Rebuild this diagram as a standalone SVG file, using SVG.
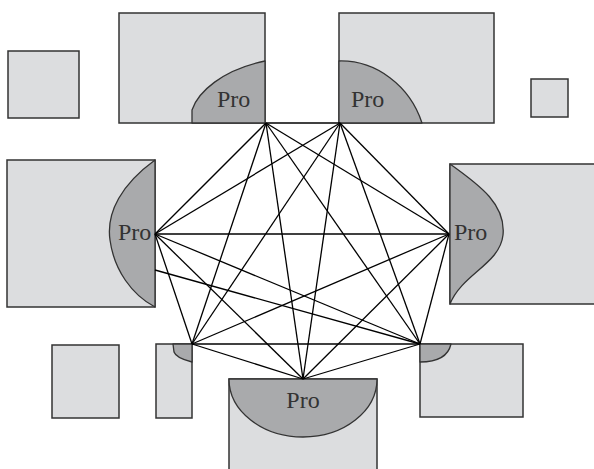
<svg xmlns="http://www.w3.org/2000/svg" width="594" height="469" viewBox="0 0 594 469">
  <style>
    .box { fill: #dcdddf; stroke: #333; stroke-width: 1.5; }
    .pro { fill: #a9aaac; stroke: #333; stroke-width: 1.3; stroke-linejoin: round; }
    .lbl { font-family: "Liberation Serif", "DejaVu Serif", serif; font-size: 24px; fill: #333; }
    .edge { stroke: #000; stroke-width: 1.3; fill: none; }
  </style>
  <rect width="594" height="469" fill="#fff"/>

  <!-- plain boxes -->
  <g id="box-small-tl"><rect class="box" x="8" y="51" width="71" height="67"/></g>
  <g id="box-small-r"><rect class="box" x="531" y="79" width="37" height="38"/></g>
  <g id="box-small-bl"><rect class="box" x="52" y="345" width="67" height="73"/></g>

  <!-- boxes with Pro regions -->
  <g id="node-top-left">
    <rect class="box" x="119" y="13" width="146" height="110"/>
    <path class="pro" d="M192,123 L192,110 C198,92 222,70 265,61 L265,123 Z"/>
    <text class="lbl" x="217" y="107">Pro</text>
  </g>
  <g id="node-top-right">
    <rect class="box" x="339" y="13" width="155" height="110"/>
    <path class="pro" d="M339,61 C376,60 410,86 422,123 L339,123 Z"/>
    <text class="lbl" x="351" y="107">Pro</text>
  </g>
  <g id="node-left">
    <rect class="box" x="7" y="160" width="148" height="147"/>
    <path class="pro" d="M155,160 C122,184 106,212 110,240 C114,270 132,295 155,307 Z"/>
    <text class="lbl" x="118" y="240">Pro</text>
  </g>
  <g id="node-right">
    <rect class="box" x="450" y="164" width="150" height="140"/>
    <path class="pro" d="M450,164 C481,186 506,205 503,235 C500,264 462,274 450,304 Z"/>
    <text class="lbl" x="454" y="240">Pro</text>
  </g>
  <g id="node-bottom-left">
    <rect class="box" x="156" y="344" width="36" height="74"/>
    <path class="pro" d="M173,344 L174,352 Q176,358 192,362 L192,344 Z"/>
  </g>
  <g id="node-bottom-right">
    <rect class="box" x="420" y="344" width="103" height="73"/>
    <path class="pro" d="M420,344 L451,344 Q447,362 420,362 Z"/>
  </g>
  <g id="node-bottom">
    <rect class="box" x="229" y="379" width="148" height="95"/>
    <path class="pro" d="M229,379 A74,58 0 0 0 377,379 Z"/>
    <text class="lbl" x="303" y="408" text-anchor="middle">Pro</text>
  </g>

  <!-- connectors: every pair of the seven contact points -->
  <g id="connectors" class="edge">
    <line x1="266" y1="123" x2="340" y2="123"/>
    <line x1="266" y1="123" x2="155" y2="234"/>
    <line x1="266" y1="123" x2="449" y2="234"/>
    <line x1="266" y1="123" x2="420" y2="344"/>
    <line x1="266" y1="123" x2="303" y2="379"/>
    <line x1="266" y1="123" x2="192" y2="344"/>
    <line x1="340" y1="123" x2="155" y2="234"/>
    <line x1="340" y1="123" x2="449" y2="234"/>
    <line x1="340" y1="123" x2="420" y2="344"/>
    <line x1="340" y1="123" x2="303" y2="379"/>
    <line x1="340" y1="123" x2="192" y2="344"/>
    <line x1="155" y1="234" x2="449" y2="234"/>
    <line x1="155" y1="234" x2="420" y2="344"/>
    <line x1="155" y1="234" x2="303" y2="379"/>
    <line x1="155" y1="234" x2="192" y2="344"/>
    <line x1="449" y1="234" x2="420" y2="344"/>
    <line x1="449" y1="234" x2="303" y2="379"/>
    <line x1="449" y1="234" x2="192" y2="344"/>
    <line x1="420" y1="344" x2="303" y2="379"/>
    <line x1="420" y1="344" x2="192" y2="344"/>
    <line x1="303" y1="379" x2="192" y2="344"/>
    <line x1="155" y1="270" x2="420" y2="344"/>
  </g>
</svg>
